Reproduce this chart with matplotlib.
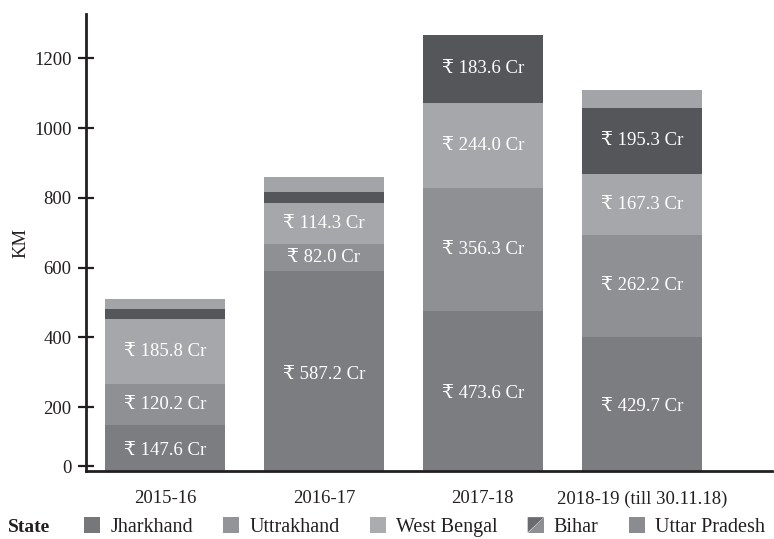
import matplotlib
matplotlib.use("Agg")
import matplotlib.pyplot as plt
from matplotlib.patches import Rectangle, Polygon
from matplotlib.legend_handler import HandlerBase
import numpy as np

years = ["2015-16", "2016-17", "2017-18", "2018-19 (till 30.11.18)"]
states = ["Jharkhand", "Uttrakhand", "West Bengal", "Bihar", "Uttar Pradesh"]
jharkhand = [149, 590, 476, 402]
uttrakhand = [118, 78, 352, 291]
west_bengal = [186, 117, 244, 176]
bihar = [29, 31, 195, 189]
uttar_pradesh = [28, 44, 0, 52]

lab_jharkhand = ["₹ 147.6 Cr", "₹ 587.2 Cr", "₹ 473.6 Cr", "₹ 429.7 Cr"]
lab_uttrakhand = ["₹ 120.2 Cr", "₹ 82.0 Cr", "₹ 356.3 Cr", "₹ 262.2 Cr"]
lab_west_bengal = ["₹ 185.8 Cr", "₹ 114.3 Cr", "₹ 244.0 Cr", "₹ 167.3 Cr"]
lab_bihar = ["", "", "₹ 183.6 Cr", "₹ 195.3 Cr"]
lab_uttar_pradesh = ["", "", "", ""]

yticks = [200, 400, 600, 800, 1000, 1200]

colors = ["#7c7d81", "#8f9094", "#a6a7aa", "#555659", "#a3a4a7"]
legend_colors = ["#76777b", "#939497", "#abacaf", None, "#8b8c8f"]

FONT = ["Liberation Serif", "DejaVu Serif", "DejaVu Sans"]
plt.rcParams["font.family"] = FONT
plt.rcParams["font.size"] = 13

fig = plt.figure(figsize=(7.74, 5.39), dpi=100)
ax = fig.add_axes([86/774, (539-471)/539, (772-86)/774, (471-14)/539])

series = [jharkhand, uttrakhand, west_bengal, bihar, uttar_pradesh]
labels = [lab_jharkhand, lab_uttrakhand, lab_west_bengal, lab_bihar, lab_uttar_pradesh]
x = np.arange(len(years))
bottom = np.zeros(len(years))
width = 0.755
for vals, col, labs in zip(series, colors, labels):
    vals = np.array(vals, dtype=float)
    ax.bar(x, vals, width, bottom=bottom, color=col, linewidth=0, zorder=2)
    for xi, b, v, t in zip(x, bottom, vals, labs):
        if t:
            ax.text(xi, b + v / 2, t, ha="center", va="center", color="white",
                    fontsize=13.5, zorder=3)
    bottom += vals

ax.set_xlim(-0.497, 3.82)
ax.set_ylim(17, 1327)
# the "0" tick sits just above the baseline in the reference
ax.set_yticks([30] + yticks)
ax.set_yticklabels(["0"] + [str(v) for v in yticks])
ax.set_xticks(x)
ax.set_xticklabels(years)
ax.tick_params(axis="x", length=0, pad=14, labelsize=13.5, colors="#231f20")
ax.tick_params(axis="y", direction="inout", length=11, width=1.6, pad=5,
               labelsize=13.5, colors="#231f20")
for s in ["top", "right"]:
    ax.spines[s].set_visible(False)
for s in ["left", "bottom"]:
    ax.spines[s].set_linewidth(2)
    ax.spines[s].set_color("#231f20")
ax.set_ylabel("KM", fontsize=13.5, color="#231f20", labelpad=3)


class HandlerSplit(HandlerBase):
    def create_artists(self, legend, orig_handle, xdescent, ydescent, width, height, fontsize, trans):
        x0, y0 = -xdescent, -ydescent
        p1 = Polygon([[x0, y0], [x0 + width, y0], [x0 + width, y0 + height]],
                     closed=True, facecolor="#8e8f92", edgecolor="none", transform=trans)
        p2 = Polygon([[x0, y0], [x0 + width, y0 + height], [x0, y0 + height]],
                     closed=True, facecolor="#6a6b6e", edgecolor="none", transform=trans)
        return [p2, p1]


handles = []
for c in legend_colors:
    handles.append(Rectangle((0, 0), 1, 1, facecolor=c if c else "#8e8f92", edgecolor="none"))
hmap = {handles[3]: HandlerSplit()}
fig.text(8/774, 1 - 527/539, "State", fontsize=14, fontweight="bold", va="center",
         color="#231f20")
leg = fig.legend(handles, states, loc="center left", bbox_to_anchor=(84/774, 1 - 527/539),
                 ncol=5, frameon=False, handlelength=0.8, handleheight=0.8,
                 handletextpad=0.5, columnspacing=1.5, fontsize=14.5, handler_map=hmap,
                 borderaxespad=0, borderpad=0)
for t in leg.get_texts():
    t.set_color("#231f20")

fig.savefig("out.png", dpi=100)
